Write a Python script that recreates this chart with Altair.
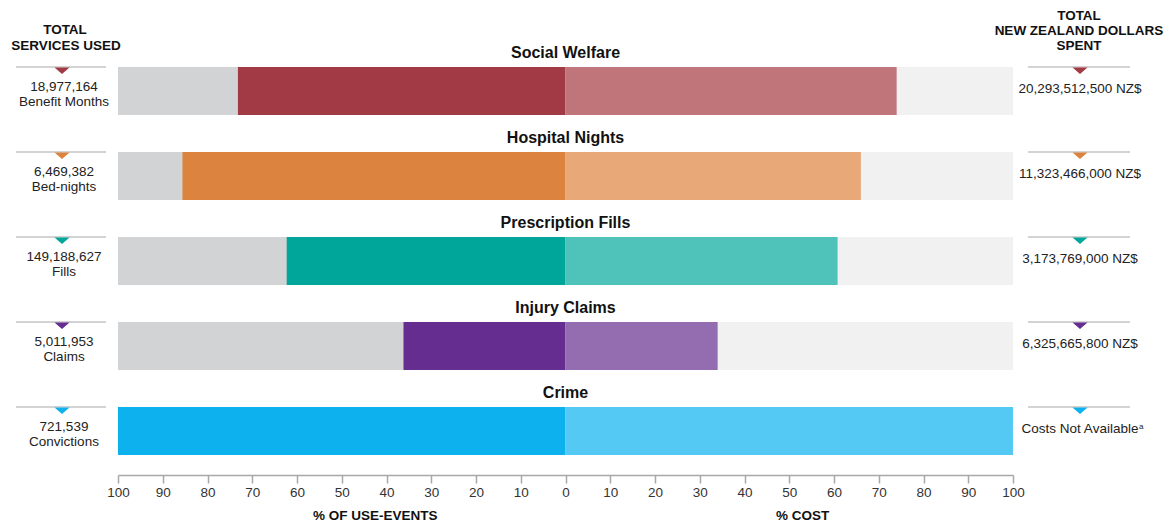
import altair as alt
import pandas as pd

categories = ["Social Welfare", "Hospital Nights", "Prescription Fills", "Injury Claims", "Crime"]
use_pct = [73.2, 85.6, 62.3, 36.2, 100.0]
cost_pct = [74.0, 66.0, 60.8, 34.0, 100.0]
totals = ["18,977,164", "6,469,382", "149,188,627", "5,011,953", "721,539"]
units = ["Benefit Months", "Bed-nights", "Fills", "Claims", "Convictions"]
spent = ["20,293,512,500 NZ$", "11,323,466,000 NZ$", "3,173,769,000 NZ$",
         "6,325,665,800 NZ$", "Costs Not Available"]
dark = ["#a23a45", "#dc843f", "#00a69a", "#652d90", "#0cb1ed"]
light = ["#bf757a", "#e8a878", "#4fc2b9", "#946db1", "#53c9f3"]
tick_values = list(range(-100, 101, 10))
axis_titles_text = ["% OF USE-EVENTS", "% COST"]
axis_titles_pos = [-42.5, 53.0]

df = pd.DataFrame({
    "cat": categories,
    "neg_use": [-v for v in use_pct],
    "cost": cost_pct,
    "zero": [0] * 5,
    "lo": [-100] * 5,
    "hi": [100] * 5,
    "total": totals,
    "unit": units,
    "spent": spent,
    "dark": dark,
    "light": light,
})

FONT = "Liberation Sans"
xs = alt.Scale(domain=[-100, 100], range=[110, 1005])
ys = alt.Scale(type="band", domain=categories, range=[59, 447],
               paddingInner=37 / 85, paddingOuter=0)
Y = alt.Y("cat:N", scale=ys, axis=None, sort=categories)


def X(field):
    return alt.X(field, scale=xs, title=None)


base = alt.Chart(df)

bg_left = base.mark_bar(color="#d1d3d4").encode(
    x=alt.X("lo:Q", scale=xs, title=None,
            axis=alt.Axis(values=tick_values, labelExpr="abs(datum.value)", grid=False,
                          domainColor="#a8a8a8", tickColor="#a8a8a8", tickSize=8,
                          labelFontSize=13.5, labelColor="#333333", labelFont=FONT,
                          labelPadding=2, domainWidth=1.5, tickWidth=1.5,
                          labelFlush=False, labelOverlap=False)),
    x2="zero:Q", y=Y)
bg_right = base.mark_bar(color="#f1f1f2").encode(x=X("zero:Q"), x2="hi:Q", y=Y)
use_bar = base.mark_bar().encode(
    x=X("neg_use:Q"), x2="zero:Q", y=Y, color=alt.Color("dark:N", scale=None))
cost_bar = base.mark_bar().encode(
    x=X("zero:Q"), x2="cost:Q", y=Y, color=alt.Color("light:N", scale=None))

titles = base.mark_text(font=FONT, fontSize=16, fontWeight="bold", color="#111111",
                        baseline="middle", yOffset=-38).encode(
    x=X("zero:Q"), y=Y, text="cat:N")

rule_left = base.mark_rule(color="#c4c4c4", strokeWidth=1.5, yOffset=-24).encode(
    x=alt.value(8), x2=alt.value(98), y=Y)
rule_right = base.mark_rule(color="#c4c4c4", strokeWidth=1.5, yOffset=-24).encode(
    x=alt.value(1020), x2=alt.value(1122), y=Y)
tri = "M-1,0L1,0L0,0.85Z"
tri_left = base.mark_point(shape=tri, size=225, filled=True, opacity=1, yOffset=-23.5).encode(
    x=alt.value(54), y=Y, color=alt.Color("dark:N", scale=None))
tri_right = base.mark_point(shape=tri, size=225, filled=True, opacity=1, yOffset=-23.5).encode(
    x=alt.value(1072), y=Y, color=alt.Color("dark:N", scale=None))

txt = dict(font=FONT, fontSize=13.5, color="#222222", baseline="middle")
left_num = base.mark_text(yOffset=-4.5, **txt).encode(x=alt.value(56), y=Y, text="total:N")
left_unit = base.mark_text(yOffset=10.5, **txt).encode(x=alt.value(56), y=Y, text="unit:N")
right_txt = base.mark_text(yOffset=-2, **txt).encode(x=alt.value(1072), y=Y, text="spent:N")
sup = base.transform_filter(alt.datum.cat == "Crime").mark_text(
    font=FONT, fontSize=8, color="#222222", baseline="middle", align="left",
    yOffset=-4).encode(x=alt.value(1131), y=Y, text=alt.value("a"))

hdr = dict(font=FONT, fontSize=13.5, fontWeight="bold", color="#111111", baseline="middle")
one = pd.DataFrame({"k": [0]})
headers = []
for t, xv, yv in [("TOTAL", 57, 22), ("SERVICES USED", 58, 38),
                  ("TOTAL", 1071, 7.5), ("NEW ZEALAND DOLLARS", 1071, 22.5), ("SPENT", 1071, 37.5)]:
    headers.append(alt.Chart(one).mark_text(**hdr).encode(
        x=alt.value(xv), y=alt.value(yv), text=alt.value(t)))

axt = pd.DataFrame({"t": axis_titles_text, "pos": axis_titles_pos})
axis_titles = alt.Chart(axt).mark_text(**hdr).encode(
    x=X("pos:Q"), y=alt.value(508), text="t:N")

chart = alt.layer(
    bg_left, bg_right, use_bar, cost_bar, titles,
    rule_left, rule_right, tri_left, tri_right,
    left_num, left_unit, right_txt, sup, axis_titles, *headers,
).properties(
    width=1160, height=467,
    padding={"left": 0, "top": 0, "right": 0, "bottom": 50},
    autosize=alt.AutoSizeParams(type="none"),
).configure_view(stroke=None)

chart.save("out.html", embed_options={"renderer": "svg", "actions": False})
